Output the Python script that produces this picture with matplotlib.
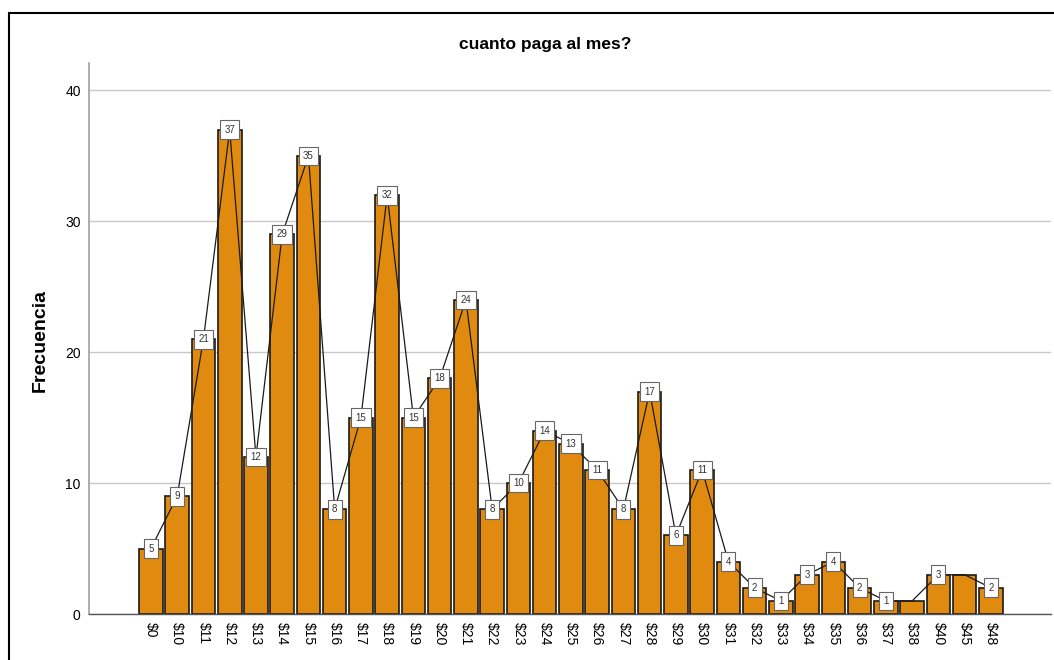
import matplotlib
matplotlib.use("Agg")
import matplotlib.pyplot as plt
from matplotlib.patches import Rectangle
import numpy as np

plt.rcParams["font.family"] = ["Liberation Sans", "DejaVu Sans"]

# ========== datos ==========
categorias = ["$0", "$10", "$11", "$12", "$13", "$14", "$15", "$16", "$17", "$18",
              "$19", "$20", "$21", "$22", "$23", "$24", "$25", "$26", "$27", "$28",
              "$29", "$30", "$31", "$32", "$33", "$34", "$35", "$36", "$37", "$38",
              "$40", "$45", "$48"]
frecuencia = [5, 9, 21, 37, 12, 29, 35, 8, 15, 32,
              15, 18, 24, 8, 10, 14, 13, 11, 8, 17,
              6, 11, 4, 2, 1, 3, 4, 2, 1, 1,
              3, 3, 2]
# SPSS oculta algunas etiquetas que se solapan
sin_etiqueta = ["$38", "$45"]

naranja = "#E08B10"

fig = plt.figure(figsize=(10.54, 6.6), dpi=100)
ax = fig.add_axes([89/1054, 1 - 614/660, (1051 - 89)/1054, (614 - 63)/660])

x = np.arange(len(categorias))
ax.bar(x, frecuencia, width=0.9, color=naranja, edgecolor="#1a1a1a", linewidth=1.2, zorder=2)
ax.plot(x, frecuencia, color="#1a1a1a", linewidth=0.9, zorder=3)

for xi, cat, v in zip(x, categorias, frecuencia):
    if cat in sin_etiqueta:
        continue
    ax.text(xi, v, str(v), ha="center", va="center", fontsize=7, color="#333333", zorder=4,
            bbox=dict(boxstyle="square,pad=0.45", facecolor="white", edgecolor="#666666", linewidth=0.8))

ax.set_xlim(-2.36, 34.29)
ax.set_ylim(0, 42.1)
ax.set_yticks([0, 10, 20, 30, 40])
ax.set_xticks(x)
ax.set_xticklabels(categorias, rotation=-90, fontsize=10)
ax.tick_params(axis="both", length=0, labelsize=10, pad=6)
ax.grid(axis="y", color="#c8c8c8", linewidth=1, zorder=0)
ax.set_axisbelow(True)

for s in ["top", "right"]:
    ax.spines[s].set_visible(False)
ax.spines["left"].set_color("#a0a0a0")
ax.spines["left"].set_linewidth(1.2)
ax.spines["bottom"].set_color("#555555")
ax.spines["bottom"].set_linewidth(1.0)

fig.text(545/1054, 1 - 45/660, "cuanto paga al mes?", ha="center", va="center",
         fontsize=12.5, fontweight="bold")
fig.text(40/1054, 1 - 340/660, "Frecuencia", ha="center", va="center", rotation=90,
         fontsize=14, fontweight="bold")

# marco negro (recortado a la derecha y abajo)
fig.patches.append(Rectangle((9/1054, -0.1), 1.2, 1.1 - 13/660, transform=fig.transFigure,
                             fill=False, edgecolor="black", linewidth=1.5))

fig.savefig("out.png", dpi=100)
